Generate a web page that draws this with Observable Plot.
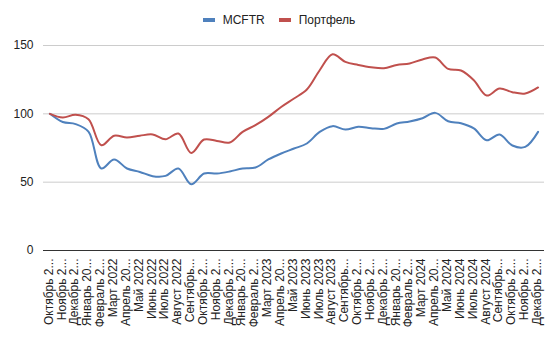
<!DOCTYPE html>
<html>
<head>
<meta charset="utf-8">
<script src="https://cdn.jsdelivr.net/npm/d3@7"></script>
<script src="https://cdn.jsdelivr.net/npm/@observablehq/plot@0.6"></script>
<style>
  html, body { margin: 0; padding: 0; background: #fff; }
  #wrap { position: relative; width: 558px; height: 341px; font-family: "Liberation Sans", Arial, sans-serif; }
  #legend { position: absolute; top: 13px; left: 0; width: 558px; display: flex; justify-content: center; gap: 14px; font-size: 12px; color: #222; }
  .item { display: flex; align-items: center; gap: 8px; }
  .sw { width: 12px; height: 4px; }
  #chart { position: absolute; top: 0; left: 0; }
</style>
</head>
<body>
<div id="wrap">
  <div id="chart"></div>
  <div id="legend"></div>
</div>
<script>
const months = [
  "Октябрь 2021","Ноябрь 2021","Декабрь 2021","Январь 2022","Февраль 2022","Март 2022",
  "Апрель 2022","Май 2022","Июнь 2022","Июль 2022","Август 2022","Сентябрь 2022",
  "Октябрь 2022","Ноябрь 2022","Декабрь 2022","Январь 2023","Февраль 2023","Март 2023",
  "Апрель 2023","Май 2023","Июнь 2023","Июль 2023","Август 2023","Сентябрь 2023",
  "Октябрь 2023","Ноябрь 2023","Декабрь 2023","Январь 2024","Февраль 2024","Март 2024",
  "Апрель 2024","Май 2024","Июнь 2024","Июль 2024","Август 2024","Сентябрь 2024",
  "Октябрь 2024","Ноябрь 2024","Декабрь 2024"
];
const tickLabels = [
  "Октябрь 2...","Ноябрь 2...","Декабрь 2...","Январь 20...","Февраль 2...","Март 2022",
  "Апрель 20...","Май 2022","Июнь 2022","Июль 2022","Август 2022","Сентябрь...",
  "Октябрь 2...","Ноябрь 2...","Декабрь 2...","Январь 20...","Февраль 2...","Март 2023",
  "Апрель 20...","Май 2023","Июнь 2023","Июль 2023","Август 2023","Сентябрь...",
  "Октябрь 2...","Ноябрь 2...","Декабрь 2...","Январь 20...","Февраль 2...","Март 2024",
  "Апрель 20...","Май 2024","Июнь 2024","Июль 2024","Август 2024","Сентябрь...",
  "Октябрь 2...","Ноябрь 2...","Декабрь 2..."
];
const mcftr = [100, 94, 92.5, 87, 60, 66.6, 60, 57.5, 54.4, 54.6, 60, 48.5, 56.3, 56.3, 57.8, 60, 60.7, 66.6, 71, 74.6, 78.3, 86.8, 91, 88.5, 90.5, 89.5, 89, 92.9, 94.4, 96.8, 100.7, 94.6, 93.1, 89.3, 80.7, 84.9, 76.8, 75.8, 86.8];
const portfolio = [100, 97.3, 99.3, 96, 77, 84, 82.7, 84, 84.9, 81.4, 85.6, 71.4, 81.2, 80.2, 79, 86.8, 91.7, 97.8, 105, 111.2, 117.8, 131.9, 143.6, 138, 135.8, 134.1, 133.4, 135.8, 136.8, 139.8, 141.2, 132.9, 131.7, 124.6, 113.4, 118.5, 115.8, 114.9, 119.3];
const seriesNames = ["MCFTR", "Портфель"];
const seriesColors = ["#4F81BD", "#C0504D"];
const yTicks = [0, 50, 100, 150];

const rows = [];
months.forEach((m, i) => {
  rows.push({month: m, value: mcftr[i], series: seriesNames[0]});
  rows.push({month: m, value: portfolio[i], series: seriesNames[1]});
});
const labelOf = new Map(months.map((m, i) => [m, tickLabels[i]]));

const chart = Plot.plot({
  width: 558,
  height: 341,
  marginLeft: 43,
  marginRight: 14,
  marginTop: 45,
  marginBottom: 91,
  style: {fontFamily: "'Liberation Sans', Arial, sans-serif", fontSize: "12px", color: "#222", background: "#fff"},
  x: {type: "point", domain: months, padding: 0.5, label: null},
  y: {domain: [0, 150], label: null},
  color: {domain: seriesNames, range: seriesColors},
  marks: [
    Plot.ruleY(yTicks.filter(d => d > 0), {stroke: "#ccc", strokeWidth: 1}),
    Plot.axisY(yTicks, {tickSize: 0, tickPadding: 10, fontSize: 12, fill: "#222", label: null}),
    Plot.axisX({tickSize: 0, tickRotate: -90, tickPadding: 8, dx: -1, fontSize: 12, fill: "#222", tickFormat: d => labelOf.get(d), label: null}),
    Plot.line(rows, {x: "month", y: "value", z: "series", stroke: "series", strokeWidth: 2, curve: "catmull-rom"}),
    Plot.ruleY([0], {stroke: "#333", strokeWidth: 1})
  ]
});
document.getElementById("chart").appendChild(chart);

const legend = document.getElementById("legend");
seriesNames.forEach((name, i) => {
  const item = document.createElement("div");
  item.className = "item";
  const sw = document.createElement("div");
  sw.className = "sw";
  sw.style.background = seriesColors[i];
  const t = document.createElement("span");
  t.textContent = name;
  item.appendChild(sw);
  item.appendChild(t);
  legend.appendChild(item);
});
</script>
</body>
</html>
